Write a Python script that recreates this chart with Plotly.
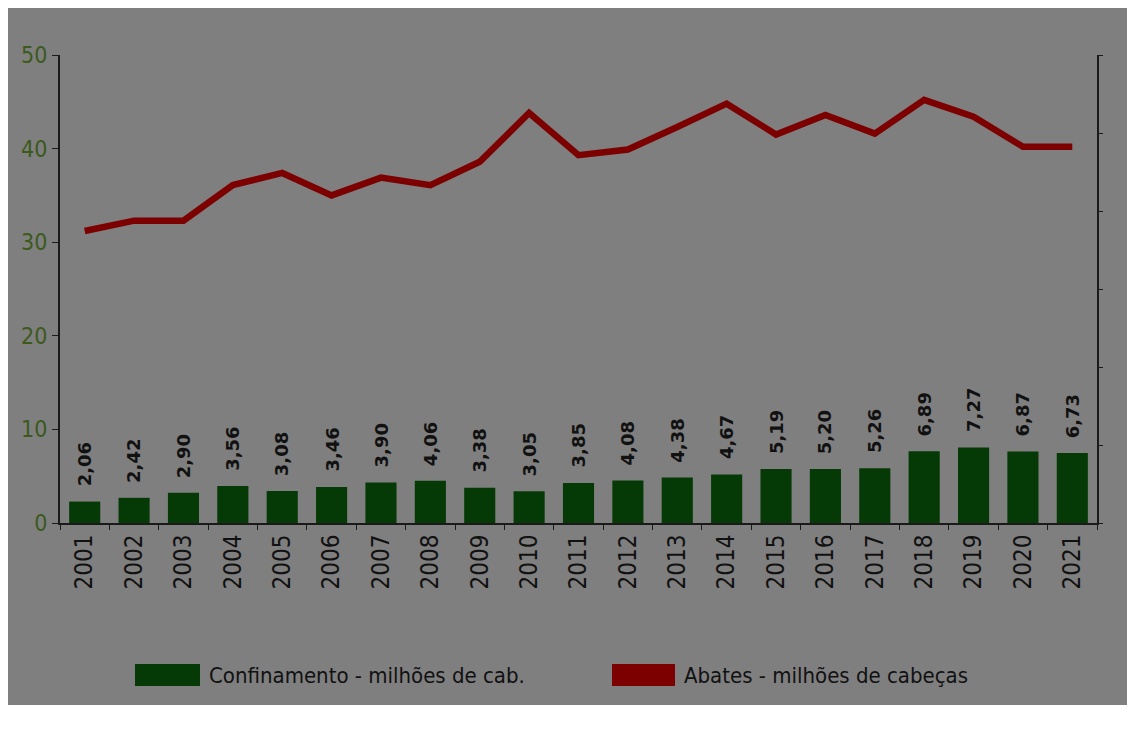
import plotly.graph_objects as go

years = [str(y) for y in range(2001, 2022)]
confinamento = [2.06, 2.42, 2.90, 3.56, 3.08, 3.46, 3.90, 4.06, 3.38, 3.05, 3.85,
                4.08, 4.38, 4.67, 5.19, 5.20, 5.26, 6.89, 7.27, 6.87, 6.73]
abates = [31.2, 32.3, 32.3, 36.1, 37.4, 35.0, 36.9, 36.1, 38.6, 43.8, 39.3,
          39.9, 42.3, 44.8, 41.5, 43.6, 41.6, 45.2, 43.4, 40.2, 40.2]
left_ticks = [0, 10, 20, 30, 40, 50]
legend_names = ["Confinamento - milhões de cab.", "Abates - milhões de cabeças"]

FONT = "DejaVu Sans Condensed"
GREEN = "#053a06"
RED = "#7d0000"
BG = "#7f7f7f"

# page body has an 8px margin; figure coordinates are offset by it
OFF = 8
W, H = 1122, 697
L, T = 60 - OFF, 55 - OFF
R = W - (1097 - OFF)
B = H - (523 - OFF)
pw, ph = W - L - R, H - T - B

def px(x):
    return (x - OFF - L) / pw

def py(y):
    return (H - B - (y - OFF)) / ph

labels = [f"{v:.2f}".replace(".", ",") for v in confinamento]

fig = go.Figure()
fig.add_trace(go.Bar(
    x=years, y=confinamento, yaxis="y2", marker=dict(color=GREEN, line=dict(width=0)),
    name=legend_names[0], showlegend=False))
fig.add_trace(go.Scatter(
    x=years, y=abates, mode="lines", line=dict(color=RED, width=6.5),
    name=legend_names[1], showlegend=False))

annotations = []
for i, (v, lab) in enumerate(zip(confinamento, labels)):
    annotations.append(dict(x=i, y=v, xref="x", yref="y2", text=f"<b>{lab}</b>",
                            textangle=-90, showarrow=False, yanchor="bottom",
                            xanchor="center", yshift=13,
                            font=dict(family="DejaVu Sans", size=18, color="#111111")))

shapes = [
    dict(type="rect", xref="paper", yref="paper",
         x0=px(135), x1=px(200), y0=py(686), y1=py(664),
         fillcolor=GREEN, line=dict(width=0)),
    dict(type="rect", xref="paper", yref="paper",
         x0=px(612), x1=px(675), y0=py(686), y1=py(664),
         fillcolor=RED, line=dict(width=0)),
]
annotations += [
    dict(xref="paper", yref="paper", x=px(207), y=py(675), xanchor="left", yanchor="middle",
         text=legend_names[0], showarrow=False, font=dict(family=FONT, size=22, color="#111111")),
    dict(xref="paper", yref="paper", x=px(682), y=py(675), xanchor="left", yanchor="middle",
         text=legend_names[1], showarrow=False, font=dict(family=FONT, size=22, color="#111111")),
]

fig.update_layout(
    width=W, height=H,
    margin=dict(l=L, r=R, t=T, b=B, pad=0),
    paper_bgcolor=BG, plot_bgcolor=BG,
    bargap=0.37,
    font=dict(family=FONT),
    shapes=shapes, annotations=annotations,
    xaxis=dict(type="category", tickangle=-90, showgrid=False,
               range=[-0.5, len(years) - 0.5],
               showline=True, linecolor="#1a1a1a", linewidth=2,
               ticks="outside", tickson="boundaries", ticklen=5, tickcolor="#1a1a1a",
               tickfont=dict(family=FONT, size=24, color="#111111")),
    yaxis=dict(range=[0, 50], tickvals=left_ticks, showgrid=False, zeroline=False,
               showline=True, linecolor="#1a1a1a", linewidth=2,
               ticks="outside", ticklen=6, tickcolor="#1a1a1a",
               tickfont=dict(family=FONT, size=23, color="#3b5a1c")),
    yaxis2=dict(range=[0, 45], dtick=7.5, overlaying="y", side="right",
                showgrid=False, zeroline=False, showticklabels=False,
                showline=True, linecolor="#1a1a1a", linewidth=2,
                ticks="outside", ticklen=4, tickcolor="#1a1a1a"),
)

fig.write_html("out.html")
